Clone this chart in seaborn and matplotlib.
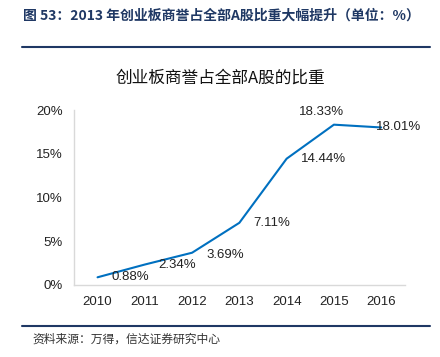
import seaborn as sns
import pandas as pd
import matplotlib
matplotlib.use('Agg')
import matplotlib.pyplot as plt
from matplotlib.lines import Line2D

# data
years = ['2010', '2011', '2012', '2013', '2014', '2015', '2016']
share = [0.88, 2.34, 3.69, 7.11, 14.44, 18.33, 18.01]
yticks = [0, 5, 10, 15, 20]

header = '图 53：2013 年创业板商誉占全部A股比重大幅提升（单位：%）'
chart_title = '创业板商誉占全部A股的比重'
source = '资料来源：万得，信达证券研究中心'

sns.set_style('white')
plt.rcParams['font.family'] = ['Noto Sans CJK SC', 'DejaVu Sans']

d = pd.DataFrame({'year': years, 'share': share})

fig = plt.figure(figsize=(4.4, 3.57), dpi=100)
ax = fig.add_axes([0.168, 0.2017, 0.752, 0.490])

sns.lineplot(x='year', y='share', data=d, ax=ax, color='#0070C0', linewidth=1.5, sort=False)

ax.set_xlim(-0.5, len(years) - 0.5)
ax.set_ylim(0, 20)
ax.set_yticks(yticks)
ax.set_yticklabels(['{}%'.format(v) for v in yticks], family='Liberation Sans', fontsize=9.5)
ax.set_xticks(range(len(years)))
ax.set_xticklabels(years, family='Liberation Sans', fontsize=9.5)
ax.set_xlabel('')
ax.set_ylabel('')
ax.tick_params(axis='y', length=3, width=0.8, color='#BFBFBF', pad=5, labelcolor='#222222')
ax.tick_params(axis='x', length=0, pad=8, labelcolor='#222222')
for s in ['top', 'right']:
    ax.spines[s].set_visible(False)
for s in ['left', 'bottom']:
    ax.spines[s].set_color('#D9D9D9')
    ax.spines[s].set_linewidth(1.0)

# data labels (offset in points, alignment)
offsets = [(10, 0, 'left'), (10, 0, 'left'), (10, -2, 'left'), (10, 0, 'left'),
           (10, 0, 'left'), (-9, 9, 'center'), (-4, 0, 'left')]
for i, v in enumerate(share):
    dx, dy, ha = offsets[i]
    ax.annotate('{:.2f}%'.format(v), (i, v), xytext=(dx, dy), textcoords='offset points',
                ha=ha, va='center', fontsize=9.5, family='Liberation Sans', color='#222222')

fig.text(0.052, 0.955, header, fontsize=10, fontweight='bold', color='#1F3864', va='center', ha='left')
fig.add_artist(Line2D([0.05, 0.977], [0.868, 0.868], color='#1F3864', linewidth=1.5))
fig.text(0.5, 0.782, chart_title, fontsize=12, color='#111111', va='center', ha='center')
fig.add_artist(Line2D([0.05, 0.977], [0.088, 0.088], color='#1F3864', linewidth=1.5))
fig.text(0.073, 0.05, source, fontsize=8.5, color='#333333', va='center', ha='left')

fig.savefig('out.png', dpi=100)
